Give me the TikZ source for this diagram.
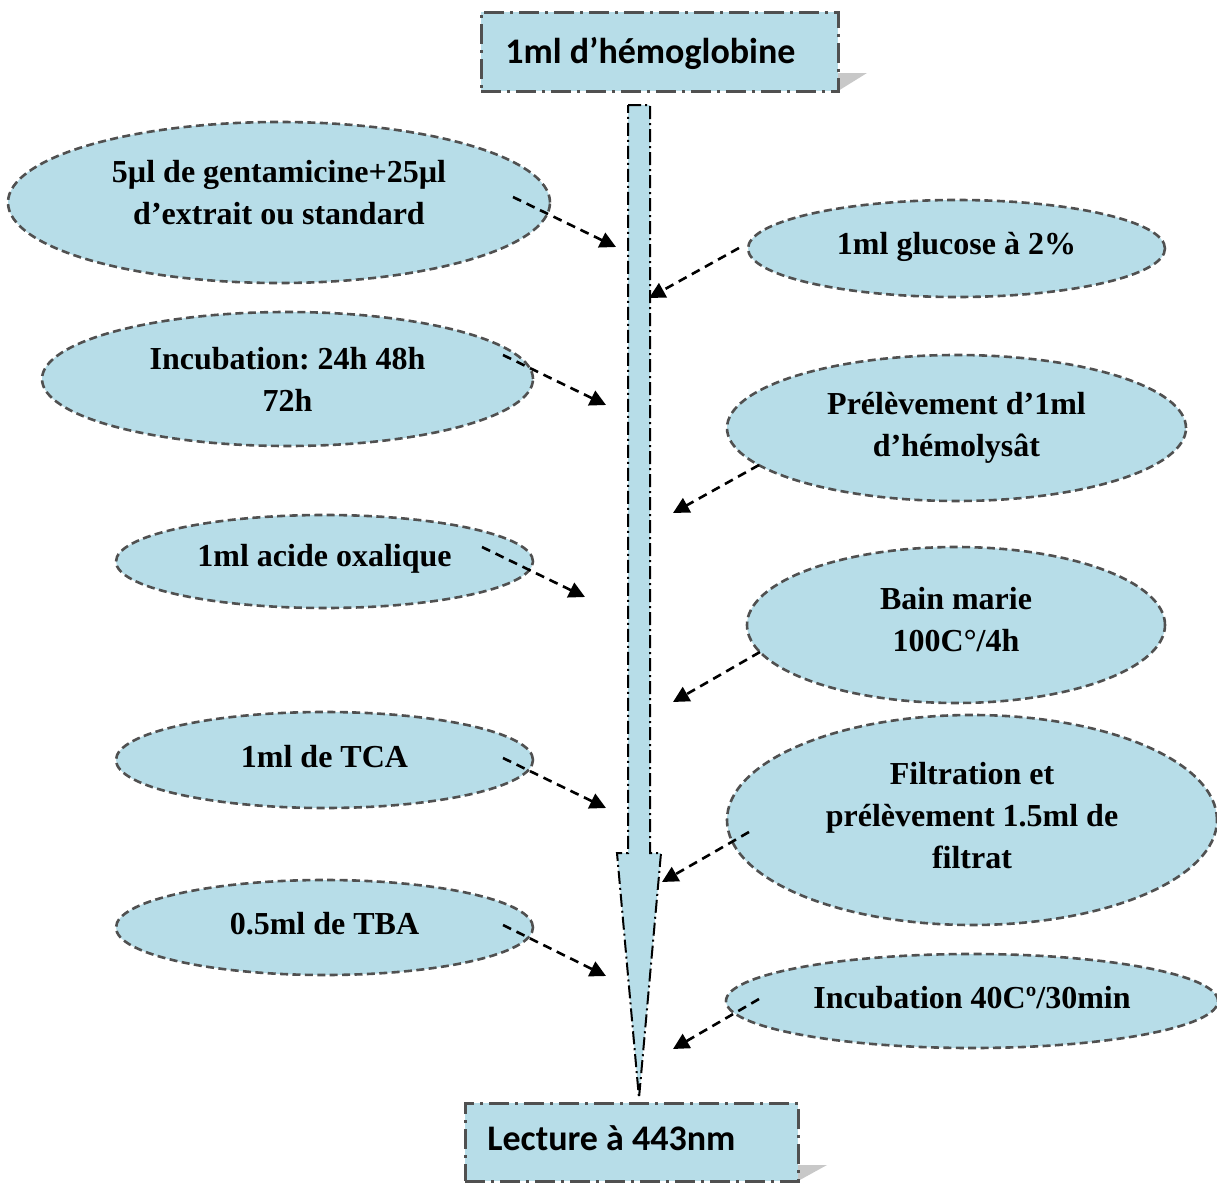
\documentclass[tikz,border=0pt]{standalone}
\usepackage{fontspec}
\setmainfont{Liberation Serif}
\newfontfamily\boxfont{Carlito}
\usetikzlibrary{shapes.geometric,arrows.meta}
\definecolor{fillblue}{HTML}{B7DDE8}
\definecolor{edgegray}{HTML}{505050}
\definecolor{shadowgray}{HTML}{C8C8C8}
\frenchspacing
\begin{document}
\begin{tikzpicture}[x=0.5pt,y=-0.5pt,
 ell/.style={ellipse, draw=edgegray, fill=fillblue, line width=1.3pt, dash pattern=on 4pt off 2.2pt, inner sep=0pt},
 etxt/.style={inner sep=0pt, align=center, font=\frenchspacing\fontsize{16}{21}\selectfont\bfseries},
 stepbox/.style={rectangle, draw=edgegray, fill=fillblue, line width=1.5pt, dash pattern=on 10pt off 3pt on 1.5pt off 3pt, inner sep=0pt},
 btxt/.style={inner sep=0pt, anchor=west, font=\boxfont\fontsize{18}{22}\selectfont\bfseries},
 conn/.style={draw=black, line width=1.3pt, dash pattern=on 4.5pt off 3pt, -{Triangle[length=8pt,width=8pt]}},
 flow/.style={draw=black, fill=fillblue, line width=1pt, dash pattern=on 6.5pt off 2pt on 1pt off 2pt},
]
\useasboundingbox (0,0) rectangle (1217,1183);

% boxes with shadows
\fill[shadowgray] (838,73) -- (867,73) -- (838,91) -- cycle;
\node[stepbox, minimum width=178.5pt, minimum height=39.5pt] (top) at (659.5,51.5) {};
\node[btxt] (toptext) at (505,53) {1ml d’hémoglobine};
\fill[shadowgray] (798,1165) -- (827,1165) -- (798,1181) -- cycle;
\node[stepbox, minimum width=166.5pt, minimum height=39pt] (bot) at (631.5,1142) {};
\node[btxt] (bottext) at (487,1138) {Lecture à 443nm};

% main flow arrow
\draw[flow] (628,105) -- (650,105) -- (650,853) -- (661,853) -- (639,1098) -- (617,853) -- (628,853) -- cycle;

% left ellipses
\node[ell, minimum width=271pt, minimum height=80.5pt] (l1) at (279,202.5) {};
\node[etxt] (l1t) at (279,193) {5µl de gentamicine+25µl\\d’extrait ou standard};
\node[ell, minimum width=245.5pt, minimum height=67pt] (l2) at (287.5,379) {};
\node[etxt] (l2t) at (287.5,379) {Incubation: 24h 48h\\72h};
\node[ell, minimum width=208.5pt, minimum height=46.5pt] (l3) at (324.5,561.5) {};
\node[etxt] (l3t) at (324.5,559) {1ml acide oxalique};
\node[ell, minimum width=208.5pt, minimum height=48pt] (l4) at (324.5,760) {};
\node[etxt] (l4t) at (324.5,757) {1ml de TCA};
\node[ell, minimum width=208.5pt, minimum height=47.5pt] (l5) at (324.5,927.5) {};
\node[etxt] (l5t) at (324.5,923.5) {0.5ml de TBA};

% right ellipses
\node[ell, minimum width=208.5pt, minimum height=48.5pt] (r1) at (956.5,248.5) {};
\node[etxt] (r1t) at (956.5,246.5) {1ml glucose à 2\%};
\node[ell, minimum width=229.5pt, minimum height=73pt] (r2) at (956.5,428) {};
\node[etxt] (r2t) at (956.5,427.5) {Prélèvement d’1ml\\d’hémolysât};
\node[ell, minimum width=209pt, minimum height=78pt] (r3) at (956,625) {};
\node[etxt] (r3t) at (956,620) {Bain marie\\100C°/4h};
\node[ell, minimum width=245pt, minimum height=105pt] (r4) at (972,820) {};
\node[etxt] (r4t) at (972,816) {Filtration et\\prélèvement 1.5ml de\\filtrat};
\node[ell, minimum width=246pt, minimum height=47pt] (r5) at (972,1001) {};
\node[etxt] (r5t) at (972,998) {Incubation 40Cº/30min};

% connector end points
\coordinate (s1) at (513,197);  \coordinate (t1) at (616,247);
\coordinate (s2) at (503,355);  \coordinate (t2) at (606,405);
\coordinate (s3) at (482,547);  \coordinate (t3) at (585,597);
\coordinate (s4) at (503,758);  \coordinate (t4) at (606,808);
\coordinate (s5) at (503,925);  \coordinate (t5) at (606,976);
\coordinate (u1) at (739,248);  \coordinate (v1) at (649,298);
\coordinate (u2) at (759,465);  \coordinate (v2) at (673,513);
\coordinate (u3) at (760,652);  \coordinate (v3) at (673,702);
\coordinate (u4) at (749,832);  \coordinate (v4) at (662,882);
\coordinate (u5) at (759,999);  \coordinate (v5) at (673,1049);

\foreach \a/\b in {s1/t1,s2/t2,s3/t3,s4/t4,s5/t5,u1/v1,u2/v2,u3/v3,u4/v4,u5/v5}
  \draw[conn] (\a) -- (\b);
\end{tikzpicture}
\end{document}
